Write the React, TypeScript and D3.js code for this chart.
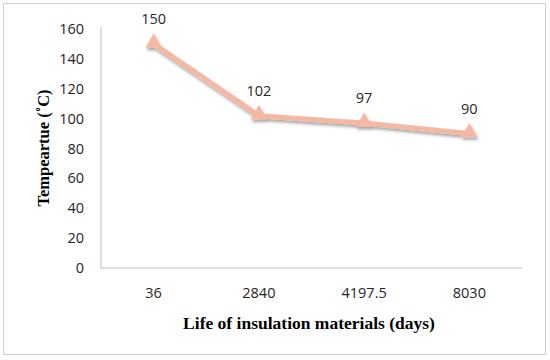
import * as d3 from 'd3';

const categories = ['36', '2840', '4197.5', '8030'];
const temps = [150, 102, 97, 90];
const yTicks = [0, 20, 40, 60, 80, 100, 120, 140, 160];

const W = 550;
const H = 360;
const M = { left: 101, right: 28, top: 29, bottom: 92 };

export default function App() {
  const x = d3
    .scaleBand<string>()
    .domain(categories)
    .range([M.left, W - M.right]);
  const y = d3
    .scaleLinear()
    .domain([0, 160])
    .range([H - M.bottom, M.top]);

  const cx = (c: string) => (x(c) ?? 0) + x.bandwidth() / 2;

  const line = d3
    .line<number>()
    .x((_, i) => cx(categories[i]))
    .y((d) => y(d));

  const tri = d3.symbol(d3.symbolTriangle, 120)();
  const labelFont = '"Open Sans", "Noto Sans", sans-serif';
  const titleFont = '"Liberation Serif", "Times New Roman", serif';

  return (
    <svg
      width={W}
      height={H}
      style={{ position: 'absolute', left: 0, top: 0, background: '#fff' }}
    >
      <defs>
        <filter id="shadow" x="-20%" y="-20%" width="140%" height="160%">
          <feDropShadow dx="1" dy="2.5" stdDeviation="1.5" floodColor="#000" floodOpacity="0.35" />
        </filter>
      </defs>
      <rect x={3.5} y={3.5} width={542} height={351} fill="#fff" stroke="#d0d0d0" />

      {/* axes */}
      <line x1={M.left} x2={M.left} y1={y(160) - 2} y2={y(0)} stroke="#bfbfbf" />
      <line x1={M.left} x2={W - M.right} y1={y(0)} y2={y(0)} stroke="#bfbfbf" />

      {yTicks.map((t) => (
        <text
          key={t}
          x={84}
          y={y(t)}
          dy="0.35em"
          textAnchor="end"
          fontFamily={labelFont}
          fontSize={14.5}
          fill="#262626"
        >
          {t}
        </text>
      ))}
      {categories.map((c) => (
        <text
          key={c}
          x={cx(c)}
          y={y(0) + 25}
          dy="0.35em"
          textAnchor="middle"
          fontFamily={labelFont}
          fontSize={14.5}
          fill="#262626"
        >
          {c}
        </text>
      ))}

      {/* series */}
      <g filter="url(#shadow)">
        <path
          d={line(temps) ?? ''}
          fill="none"
          stroke="#f5b9a3"
          strokeWidth={5}
          strokeLinejoin="round"
        />
        {temps.map((v, i) => (
          <path
            key={i}
            d={tri ?? ''}
            transform={`translate(${cx(categories[i])},${y(v) - 1})`}
            fill="#f5b9a3"
          />
        ))}
      </g>
      {temps.map((v, i) => (
        <text
          key={i}
          x={cx(categories[i])}
          y={y(v) - 25}
          dy="0.35em"
          textAnchor="middle"
          fontFamily={labelFont}
          fontSize={14.5}
          fill="#262626"
        >
          {v}
        </text>
      ))}

      <text
        transform="translate(43,148) rotate(-90)"
        textAnchor="middle"
        dy="0.35em"
        fontFamily={titleFont}
        fontWeight="bold"
        fontSize={16.5}
        fill="#000"
      >
        Tempeartue (˚C)
      </text>
      <text
        x={309}
        y={323}
        dy="0.35em"
        textAnchor="middle"
        fontFamily={titleFont}
        fontWeight="bold"
        fontSize={17.5}
        fill="#000"
      >
        Life of insulation materials (days)
      </text>
    </svg>
  );
}
